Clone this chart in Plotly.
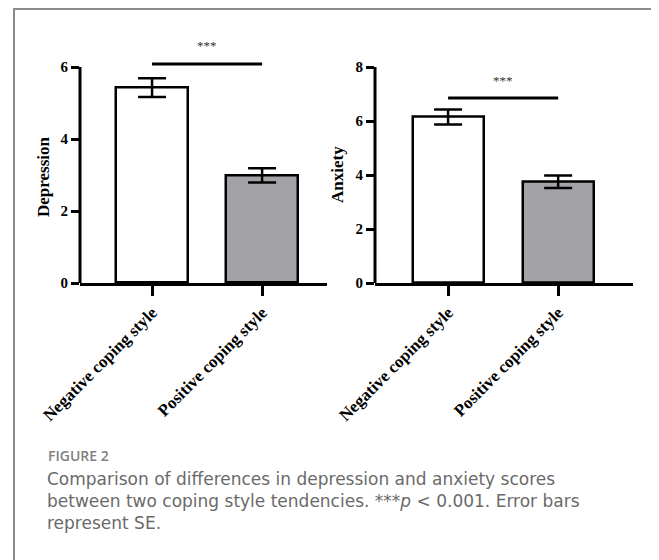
import plotly.graph_objects as go

W, H = 659, 560
OFF = 8  # page body margin offset

categories = ["Negative coping style", "Positive coping style"]
depression_mean = [5.43, 2.99]
depression_se = [0.26, 0.20]
anxiety_mean = [6.15, 3.75]
anxiety_se = [0.28, 0.23]
bar_colors = ["#ffffff", "#a3a3a7"]
dep_ticks = [0, 2, 4, 6]
anx_ticks = [0, 2, 4, 6, 8]
dep_sig_y = 6.08
anx_sig_y = 6.85
dep_star_y = 6.6
anx_star_y = 7.5


def px_x(p):
    return (p - OFF) / W


def px_y(p):
    return 1 - (p - OFF) / H


serif = "Liberation Serif"
fig = go.Figure()

panels = [
    dict(xa="x", ya="y", mean=depression_mean, se=depression_se, width=0.655),
    dict(xa="x2", ya="y2", mean=anxiety_mean, se=anxiety_se, width=0.645),
]
for p in panels:
    fig.add_trace(go.Bar(
        x=categories, y=p["mean"], xaxis=p["xa"], yaxis=p["ya"],
        width=p["width"],
        marker=dict(color=bar_colors, line=dict(color="black", width=2.5)),
        error_y=dict(type="data", array=p["se"], visible=True,
                     color="black", thickness=2.5, width=14),
        showlegend=False, hoverinfo="skip",
    ))

fig.add_trace(go.Scatter(x=categories, y=[dep_sig_y, dep_sig_y], xaxis="x", yaxis="y",
                         mode="lines", line=dict(color="black", width=3),
                         showlegend=False, hoverinfo="skip"))
fig.add_trace(go.Scatter(x=categories, y=[anx_sig_y, anx_sig_y], xaxis="x2", yaxis="y2",
                         mode="lines", line=dict(color="black", width=3),
                         showlegend=False, hoverinfo="skip"))

axis_common_x = dict(
    type="category", showline=True, linecolor="black", linewidth=3,
    ticks="outside", ticklen=10, tickwidth=2.5, tickcolor="black",
    tickangle=-45, showgrid=False, zeroline=False, automargin=False,
    tickfont=dict(family=serif, size=17, color="black", weight="bold"),
)
axis_common_y = dict(
    showline=False, ticks="outside", ticklen=8, tickwidth=3, tickcolor="black",
    showgrid=False, zeroline=False, automargin=False,
    tickfont=dict(family=serif, size=15, color="black", weight="bold"),
)

dep_top = 6.9
anx_top = 8.6
fig.update_layout(
    xaxis=dict(axis_common_x, domain=[px_x(80), px_x(327)], range=[-0.655, 1.59], anchor="y"),
    yaxis=dict(axis_common_y, domain=[px_y(283), px_y(283 - dep_top * 36)],
               range=[0, dep_top], tickvals=dep_ticks, anchor="x"),
    xaxis2=dict(axis_common_x, domain=[px_x(375), px_x(633)], range=[-0.664, 1.68], anchor="y2"),
    yaxis2=dict(axis_common_y, domain=[px_y(283), px_y(283 - anx_top * 27)],
                range=[0, anx_top], tickvals=anx_ticks, anchor="x2"),
)

fig.add_shape(type="line", xref="x domain", yref="y", x0=0, x1=0, y0=0, y1=max(dep_ticks),
              line=dict(color="black", width=3))
fig.add_shape(type="line", xref="x2 domain", yref="y2", x0=0, x1=0, y0=0, y1=max(anx_ticks),
              line=dict(color="black", width=3))

fig.add_shape(type="rect", xref="paper", yref="paper",
              x0=px_x(14), x1=px_x(654), y0=-0.05, y1=px_y(9),
              line=dict(color="#8c8c8c", width=2), fillcolor="rgba(0,0,0,0)")

ann = []
ann.append(dict(x=0.5, y=dep_star_y, xref="x", yref="y", text="***", showarrow=False,
                font=dict(family=serif, size=13, color="#333333")))
ann.append(dict(x=0.5, y=anx_star_y, xref="x2", yref="y2", text="***", showarrow=False,
                font=dict(family=serif, size=13, color="#333333")))
ann.append(dict(x=px_x(43), y=px_y(177), xref="paper", yref="paper", text="Depression",
                textangle=-90, showarrow=False, xanchor="center", yanchor="middle",
                font=dict(family=serif, size=17, color="black", weight="bold")))
ann.append(dict(x=px_x(337), y=px_y(175), xref="paper", yref="paper", text="Anxiety",
                textangle=-90, showarrow=False, xanchor="center", yanchor="middle",
                font=dict(family=serif, size=17, color="black", weight="bold")))

ann.append(dict(x=px_x(46), y=px_y(455.5), xref="paper", yref="paper", text="FIGURE 2",
                xanchor="left", yanchor="middle", showarrow=False,
                font=dict(family="Open Sans", size=14, color="#808080", weight=600)))
cap_lines = [
    "Comparison of differences in depression and anxiety scores",
    "between two coping style tendencies. ***<i>p</i> &lt; 0.001. Error bars",
    "represent SE.",
]
ann.append(dict(x=px_x(45), y=px_y(500.5), xref="paper", yref="paper",
                text="<br>".join(cap_lines), align="left",
                xanchor="left", yanchor="middle", showarrow=False,
                font=dict(family="DejaVu Sans", size=17, color="#6a6a6a")))

fig.update_layout(
    annotations=ann,
    width=W, height=H,
    margin=dict(l=0, r=0, t=0, b=0, autoexpand=False),
    paper_bgcolor="white", plot_bgcolor="white",
    bargap=0,
)

fig.write_html("out.html")
